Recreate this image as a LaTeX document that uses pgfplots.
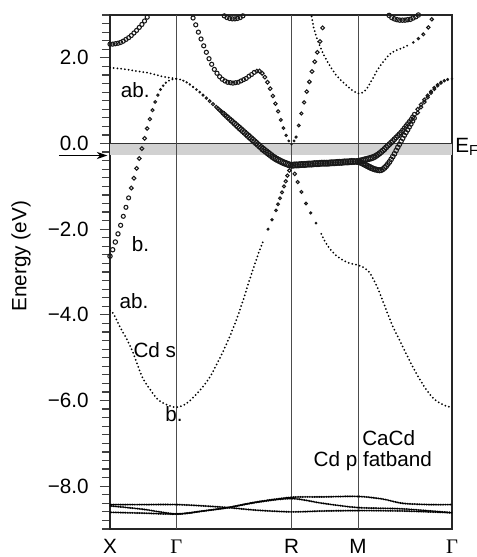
\documentclass[border=0pt]{standalone}
\usepackage{pgfplots}
\pgfplotsset{compat=1.18}
\usepackage{pgfplotstable}
\usepackage{fontspec}
\setmainfont{Liberation Sans}
\newfontfamily\seriffont{Liberation Serif}
\usetikzlibrary{arrows.meta}

% k-path: X=0, Gamma=0.5, R=1.366, M=1.866, Gamma=2.573 ; w = circle size (pt)
\pgfplotstableread{
k E w
0.00 2.32 1.55
0.02 2.32 1.55
0.04 2.33 1.55
0.06 2.34 1.55
0.08 2.36 1.55
0.10 2.39 1.55
0.12 2.43 1.55
0.14 2.47 1.55
0.16 2.52 1.55
0.18 2.58 1.55
0.20 2.64 1.55
0.22 2.71 1.55
0.24 2.78 1.55
0.26 2.86 1.55
0.28 2.95 1.55
0.30 3.05 0
}\bandA

\pgfplotstableread{
k E w
0.0 1.77 0
0.1 1.74 0
0.2 1.69 0
0.3 1.64 0
0.4 1.56 0
0.5 1.51 0
}\bandB

\pgfplotstableread{
k E w
0.00 -2.63 1.65
0.02 -2.48 1.65
0.04 -2.30 1.65
0.06 -2.11 1.6
0.08 -1.91 1.55
0.10 -1.70 1.5
0.12 -1.49 1.5
0.14 -1.27 1.5
0.16 -1.04 1.45
0.18 -0.81 1.45
0.20 -0.58 1.4
0.22 -0.35 1.4
0.24 -0.12 1.4
0.26 0.12 1.4
0.28 0.35 1.3
0.30 0.57 1.25
0.32 0.78 1.1
0.34 0.97 1.0
0.36 1.13 0.85
0.38 1.26 0.65
0.40 1.35 0.5
0.42 1.42 0.35
0.44 1.46 0
0.46 1.49 0
0.48 1.50 0
0.50 1.51 0
}\bandC

\pgfplotstableread{
k E w
0.000 -3.90 0
0.023 -3.96 0
0.075 -4.28 0
0.128 -4.58 0
0.173 -4.88 0
0.211 -5.20 0
0.248 -5.49 0
0.301 -5.74 0
0.361 -5.98 0
0.429 -6.10 0
0.500 -6.16 0
0.579 -6.06 0
0.677 -5.76 0
0.752 -5.45 0
0.828 -5.00 0
0.888 -4.60 0
0.948 -4.14 0
1.006 -3.62 0
1.046 -3.22 0
1.086 -2.85 0
1.121 -2.53 0
1.155 -2.26 0
1.189 -2.00 0.7
1.219 -1.78 0.85
1.249 -1.56 0.95
1.264 -1.42 1.0
1.279 -1.28 1.05
1.294 -1.14 1.1
1.309 -1.00 1.15
1.322 -0.88 1.2
1.335 -0.75 1.25
1.350 -0.63 1.3
1.366 -0.51 1.35
1.390 -0.71 1.3
1.412 -0.90 1.2
1.440 -1.13 1.1
1.475 -1.40 1.0
1.510 -1.62 0.8
1.550 -1.86 0.55
1.590 -2.11 0
1.625 -2.33 0
1.660 -2.48 0
1.700 -2.61 0
1.750 -2.72 0
1.798 -2.79 0
1.866 -2.84 0
1.900 -2.88 0
1.949 -3.00 0
1.990 -3.22 0
2.024 -3.45 0
2.080 -3.90 0
2.129 -4.28 0
2.180 -4.60 0
2.227 -4.90 0
2.270 -5.17 0
2.318 -5.44 0
2.378 -5.74 0
2.430 -5.94 0
2.476 -6.05 0
2.530 -6.13 0
2.573 -6.16 0
}\bandD

\pgfplotstableread{
k E w
0.500 1.51 0
0.525 1.50 0
0.550 1.47 0.2
0.575 1.43 0.25
0.600 1.38 0.3
0.625 1.32 0.4
0.650 1.26 0.5
0.675 1.20 0.6
0.700 1.13 0.75
0.725 1.06 0.9
0.750 0.99 1.05
0.775 0.92 1.15
0.800 0.85 1.3
0.8125 0.815 1.35
0.825 0.78 1.4
0.8375 0.745 1.45
0.850 0.71 1.5
0.8625 0.675 1.55
0.875 0.64 1.6
0.8875 0.605 1.65
0.900 0.57 1.7
0.9125 0.535 1.75
0.925 0.50 1.8
0.9375 0.465 1.85
0.950 0.43 1.9
0.9625 0.395 1.95
0.975 0.36 2.0
0.9875 0.325 2.0
1.000 0.29 2.0
1.0125 0.255 2.0
1.025 0.22 2.0
1.0375 0.185 2.1
1.050 0.15 2.1
1.0625 0.115 2.1
1.075 0.08 2.1
1.0875 0.045 2.1
1.100 0.01 2.1
1.1125 -0.025 2.1
1.125 -0.06 2.1
1.1375 -0.095 2.1
1.150 -0.13 2.2
1.1625 -0.16 2.2
1.175 -0.19 2.2
1.1875 -0.22 2.2
1.200 -0.25 2.2
1.2125 -0.28 2.2
1.225 -0.31 2.2
1.2375 -0.335 2.2
1.250 -0.36 2.2
1.2625 -0.38 2.2
1.275 -0.40 2.2
1.2875 -0.42 2.2
1.300 -0.44 2.2
1.3125 -0.455 2.2
1.325 -0.47 2.2
1.3375 -0.485 2.2
1.350 -0.50 2.2
1.366 -0.51 2.2
1.378 -0.505 2.2
1.390 -0.50 2.2
1.4025 -0.50 2.2
1.415 -0.50 2.2
1.4275 -0.495 2.2
1.440 -0.49 2.2
1.4525 -0.49 2.2
1.465 -0.49 2.2
1.4775 -0.485 2.2
1.490 -0.48 2.2
1.5025 -0.48 2.2
1.515 -0.48 2.2
1.5275 -0.475 2.2
1.540 -0.47 2.2
1.5525 -0.47 2.2
1.565 -0.47 2.2
1.5775 -0.465 2.2
1.590 -0.46 2.2
1.6025 -0.46 2.2
1.615 -0.46 2.2
1.6275 -0.46 2.2
1.640 -0.46 2.2
1.6525 -0.455 2.2
1.665 -0.45 2.2
1.6775 -0.45 2.2
1.690 -0.45 2.2
1.7025 -0.445 2.2
1.715 -0.44 2.2
1.7275 -0.44 2.2
1.740 -0.44 2.2
1.7525 -0.435 2.2
1.765 -0.43 2.2
1.7775 -0.43 2.2
1.790 -0.43 2.2
1.8025 -0.425 2.2
1.815 -0.42 2.2
1.8275 -0.42 2.2
1.840 -0.42 2.1
1.853 -0.42 2.1
1.866 -0.42 2.1
1.878 -0.41 2.1
1.890 -0.40 2.1
1.9025 -0.39 2.1
1.915 -0.38 2.1
1.9275 -0.37 2.1
1.940 -0.36 2.1
1.9525 -0.35 2.1
1.965 -0.34 2.1
1.9775 -0.325 2.1
1.990 -0.31 2.0
2.0025 -0.285 2.0
2.015 -0.26 1.9
2.0275 -0.23 1.9
2.040 -0.20 1.9
2.0525 -0.165 1.9
2.065 -0.13 1.9
2.0775 -0.09 1.85
2.090 -0.05 1.85
2.1025 -0.015 1.8
2.115 0.02 1.8
2.1275 0.06 1.8
2.140 0.10 1.75
2.1525 0.14 1.75
2.165 0.18 1.7
2.1775 0.22 1.7
2.190 0.26 1.7
2.2025 0.31 1.65
2.215 0.36 1.6
2.2275 0.41 1.6
2.240 0.46 1.6
2.2525 0.51 1.55
2.265 0.56 1.5
2.2775 0.62 1.5
2.290 0.68 1.5
2.315 0.80 1.4
2.340 0.91 1.35
2.365 1.02 1.3
2.390 1.12 1.2
2.415 1.21 1.1
2.440 1.30 1.05
2.465 1.37 0.95
2.490 1.43 0.85
2.515 1.47 0.7
2.540 1.50 0.55
2.573 1.51 0.4
}\bandP

\pgfplotstableread{
k E w
1.866 -0.42 2.0
1.878 -0.435 2.0
1.890 -0.45 2.0
1.9025 -0.47 2.0
1.915 -0.49 2.0
1.9275 -0.51 2.0
1.940 -0.53 2.0
1.9525 -0.55 2.0
1.965 -0.57 2.0
1.9775 -0.585 1.95
1.990 -0.60 1.95
2.0025 -0.61 1.9
2.015 -0.62 1.9
2.0275 -0.625 1.9
2.040 -0.62 1.9
2.0525 -0.60 1.85
2.065 -0.57 1.85
2.0775 -0.53 1.85
2.090 -0.48 1.8
2.1025 -0.43 1.8
2.115 -0.37 1.75
2.1275 -0.305 1.75
2.140 -0.24 1.75
2.1525 -0.165 1.7
2.165 -0.09 1.7
2.1775 -0.02 1.7
2.190 0.05 1.65
2.2025 0.12 1.65
2.215 0.19 1.6
2.2275 0.255 1.6
2.240 0.32 1.6
2.2525 0.385 1.55
2.265 0.45 1.5
2.2775 0.52 1.5
2.290 0.59 1.5
2.315 0.72 1.4
2.340 0.85 1.35
2.365 0.97 1.3
2.390 1.08 1.2
2.415 1.18 1.1
2.440 1.27 1.05
2.465 1.35 0.95
2.490 1.41 0.85
2.515 1.46 0.7
2.540 1.49 0.55
2.573 1.51 0.4
}\bandPP

\pgfplotstableread{
k E w
0.615 3.05 0
0.625 2.93 1.55
0.645 2.77 1.55
0.665 2.60 1.55
0.685 2.44 1.55
0.705 2.28 1.55
0.725 2.13 1.55
0.745 1.98 1.55
0.765 1.85 1.55
0.785 1.73 1.55
0.805 1.64 1.55
0.825 1.56 1.55
0.845 1.50 1.55
0.865 1.46 1.55
0.885 1.43 1.55
0.905 1.42 1.55
0.925 1.41 1.55
0.945 1.42 1.5
0.965 1.43 1.5
0.985 1.46 1.5
1.005 1.49 1.5
1.025 1.52 1.5
1.045 1.57 1.5
1.065 1.61 1.5
1.085 1.66 1.5
1.105 1.69 1.45
1.125 1.69 1.45
1.145 1.64 1.45
1.165 1.55 1.4
1.185 1.43 1.4
1.205 1.28 1.35
1.225 1.11 1.3
1.245 0.93 1.25
1.265 0.75 1.2
1.285 0.55 1.1
1.305 0.36 1.0
1.325 0.19 0.8
1.345 0.06 0.6
1.366 -0.02 0.35
1.385 0.06 0.6
1.400 0.15 0.8
1.420 0.42 1.05
1.440 0.70 1.15
1.460 0.96 1.25
1.480 1.21 1.3
1.500 1.44 1.35
1.520 1.68 1.4
1.540 1.91 1.4
1.560 2.13 1.4
1.580 2.38 1.4
1.600 2.70 1.4
}\bandQ

\pgfplotstableread{
k E w
1.510 3.05 0
1.520 2.93 0
1.530 2.74 0
1.555 2.47 0
1.580 2.27 0
1.605 2.09 0
1.630 1.94 0
1.655 1.81 0
1.680 1.69 0
1.706 1.58 0
1.740 1.47 0
1.781 1.35 0
1.820 1.25 0
1.866 1.17 0
1.900 1.19 0
1.930 1.27 0
1.955 1.40 0
1.981 1.54 0
2.005 1.68 0
2.032 1.81 0
2.070 1.96 0
2.107 2.09 0
2.150 2.17 0
2.207 2.24 0
2.245 2.30 0
2.282 2.36 0.55
2.320 2.45 0.85
2.357 2.55 1.1
2.395 2.71 1.25
2.421 2.90 1.25
2.430 3.02 0
}\bandF

\pgfplotstableread{
k E w
0.84 3.05 0
0.86 2.98 1.55
0.88 2.94 1.55
0.90 2.92 1.55
0.92 2.91 1.55
0.94 2.91 1.55
0.96 2.92 1.55
0.98 2.94 1.55
1.00 2.98 1.55
1.02 3.05 0
}\bandG

\pgfplotstableread{
k E w
2.090 3.05 0
2.100 2.99 1.65
2.120 2.94 1.65
2.140 2.91 1.65
2.160 2.89 1.65
2.180 2.88 1.65
2.200 2.88 1.65
2.220 2.88 1.65
2.240 2.89 1.65
2.260 2.90 1.65
2.280 2.93 1.65
2.300 2.96 1.65
2.320 3.00 1.65
2.330 3.05 0
}\bandH

\pgfplotstableread{
k E
0.000 -8.43
0.250 -8.43
0.500 -8.43
0.700 -8.46
0.888 -8.50
1.100 -8.56
1.366 -8.60
1.600 -8.58
1.866 -8.57
2.200 -8.58
2.573 -8.62
}\dA

\pgfplotstableread{
k E
0.000 -8.46
0.250 -8.54
0.500 -8.65
0.700 -8.58
0.888 -8.50
1.100 -8.37
1.366 -8.26
1.600 -8.25
1.866 -8.24
2.050 -8.30
2.200 -8.40
2.400 -8.43
2.573 -8.43
}\dB

\pgfplotstableread{
k E
0.000 -8.61
0.250 -8.63
0.500 -8.65
0.700 -8.58
0.888 -8.50
1.100 -8.38
1.366 -8.29
1.600 -8.40
1.866 -8.50
2.200 -8.53
2.573 -8.62
}\dC

\pgfplotsset{
  dotband/.style={smooth, black, line width=1.5pt, dash pattern=on 0pt off 2.8pt,
     line cap=round, unbounded coords=jump,
     restrict expr to domain={\thisrow{w}}{-1:0.45}},
  fatband/.style={scatter, only marks, mark=o, mark options={line width=0.8pt},
     scatter/use mapped color={draw=black!90},
     visualization depends on={\thisrow{w}\as\wt},
     scatter/@pre marker code/.append style={/tikz/mark size=\wt pt},
     restrict expr to domain={\thisrow{w}}{0.15:10}},
  dband/.style={smooth, black, line width=1.6pt, dash pattern=on 0pt off 1.3pt, line cap=round},
}

\begin{document}
\begin{tikzpicture}[font=\fontsize{15.5}{18}\selectfont]
\begin{axis}[
  name=ax,
  scale only axis,
  width=256.5pt, height=385.5pt,
  xmin=0, xmax=2.573, ymin=-9, ymax=3,
  clip mode=individual,
  axis line style={black!85, line width=0.8pt},
  xtick={0,0.5,1.366,1.866,2.573},
  xticklabels={X,{\seriffont Γ},R,M,{\seriffont Γ}},
  xtick style={draw=none},
  xticklabel style={yshift=3pt},
  ytick={-8,-6,-4,-2,0,2},
  yticklabels={−8.0,−6.0,−4.0,−2.0,0.0,2.0},
  minor ytick={-9,-8.8,...,3.05},
  ytick pos=left,
  tick align=outside,
  major tick length=7.5pt,
  minor tick length=6pt,
  ytick style={black!75, line width=0.9pt},
  yticklabel style={xshift=-5pt},
  tick label style={font=\fontsize{15.5}{18}\selectfont},
]
% Fermi level band and line
\fill[black!18] (axis cs:0,-0.27) rectangle (axis cs:2.573,0);
\draw[black!80, line width=0.8pt] (axis cs:0,0) -- (axis cs:2.573,0);
% high-symmetry lines
\draw[black!70, line width=0.7pt] (axis cs:0.5,-9) -- (axis cs:0.5,3);
\draw[black!70, line width=0.7pt] (axis cs:1.366,-9) -- (axis cs:1.366,3);
\draw[black!70, line width=0.7pt] (axis cs:1.866,-9) -- (axis cs:1.866,3);

% d bands
\addplot[dband] table[x=k,y=E] {\dA};
\addplot[dband] table[x=k,y=E] {\dB};
\addplot[dband] table[x=k,y=E] {\dC};

% dotted (thin) parts
\addplot[dotband] table[x=k,y=E] {\bandB};
\addplot[dotband] table[x=k,y=E] {\bandC};
\addplot[dotband] table[x=k,y=E] {\bandD};
\addplot[dotband] table[x=k,y=E] {\bandP};
\addplot[dotband] table[x=k,y=E] {\bandF};

% fat (Cd p) parts
\addplot[fatband] table[x=k,y=E] {\bandA};
\addplot[fatband] table[x=k,y=E] {\bandC};
\addplot[fatband] table[x=k,y=E] {\bandD};
\addplot[fatband] table[x=k,y=E] {\bandP};
\addplot[fatband] table[x=k,y=E] {\bandPP};
\addplot[fatband] table[x=k,y=E] {\bandQ};
\addplot[fatband] table[x=k,y=E] {\bandF};
\addplot[fatband] table[x=k,y=E] {\bandG};
\addplot[fatband] table[x=k,y=E] {\bandH};

% annotations
\node[anchor=base west, inner sep=0] at (axis cs:0.080,1.08) {ab.};
\node[anchor=base west, inner sep=0] at (axis cs:0.163,-2.53) {b.};
\node[anchor=base west, inner sep=0] at (axis cs:0.070,-3.85) {ab.};
\node[anchor=base west, inner sep=0] at (axis cs:0.175,-4.99) {Cd s};
\node[anchor=base west, inner sep=0] at (axis cs:0.414,-6.50) {b.};
\node[anchor=base west, inner sep=0] at (axis cs:1.896,-7.05) {CaCd};
\node[anchor=base west, inner sep=0] at (axis cs:1.530,-7.54) {Cd p fatband};
\node[anchor=base west, inner sep=0] at (axis cs:2.596,-0.21) {E\textsubscript{F}};
\node[rotate=90, inner sep=0] at (axis cs:-0.670,-2.63) {Energy (eV)};
\draw[black, line width=0.9pt, -{Stealth[length=8pt,width=5.5pt]}] (axis cs:-0.384,-0.28) -- (axis cs:-0.02,-0.28);
\end{axis}
\pgfresetboundingbox
\path (ax.south west) ++(-82.5pt,-21pt) rectangle ++(357pt,417.75pt);
\end{tikzpicture}
\end{document}
